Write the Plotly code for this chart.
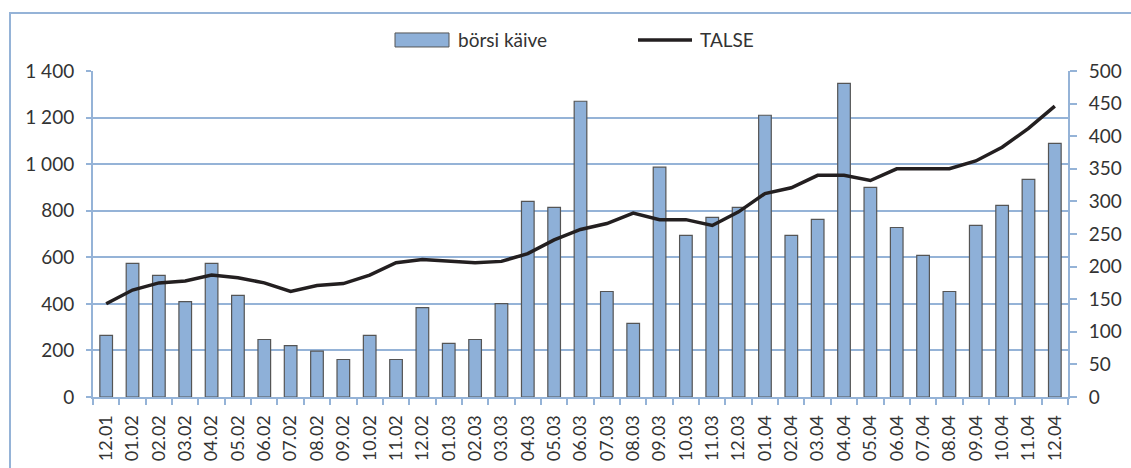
import plotly.graph_objects as go

categories = ["12.01", "01.02", "02.02", "03.02", "04.02", "05.02", "06.02", "07.02", "08.02",
              "09.02", "10.02", "11.02", "12.02", "01.03", "02.03", "03.03", "04.03", "05.03",
              "06.03", "07.03", "08.03", "09.03", "10.03", "11.03", "12.03", "01.04", "02.04",
              "03.04", "04.04", "05.04", "06.04", "07.04", "08.04", "09.04", "10.04", "11.04", "12.04"]
borsi_kaive = [265, 574, 522, 410, 574, 436, 247, 221, 197, 161, 265, 161, 384, 230, 247, 401,
               840, 814, 1270, 453, 316, 987, 694, 771, 814, 1210, 694, 763, 1347, 900, 728, 608,
               453, 737, 823, 935, 1089]
talse = [143, 164, 175, 178, 187, 183, 175, 162, 171, 174, 187, 206, 211, 208, 206, 208, 220,
         241, 257, 266, 282, 272, 272, 263, 284, 312, 321, 340, 340, 332, 350, 350, 350, 362,
         383, 412, 446]

W, H = 1131, 468
L, R, T, B = 93, 1068, 71, 396.7
BLUE = "#95B3D7"
TXT = "#333333"
FONT = "Lato"

def px(x):
    return (x - L) / (R - L)

def py(y):
    return (B - y) / (B - T)

fig = go.Figure()
fig.add_trace(go.Bar(x=categories, y=borsi_kaive, name="börsi käive", width=0.48,
                     marker=dict(color="#8EB0D8", line=dict(color="#555555", width=1.2)),
                     showlegend=False))
fig.add_trace(go.Scatter(x=categories, y=talse, name="TALSE", mode="lines", yaxis="y2",
                         line=dict(color="#231f20", width=3.5), showlegend=False))

shapes = [
    # outer chart border
    dict(type="rect", xref="paper", yref="paper", x0=px(10), x1=px(1145), y0=py(13), y1=py(490),
         line=dict(color=BLUE, width=2), fillcolor="rgba(0,0,0,0)", layer="below"),
    # legend swatches
    dict(type="rect", xref="paper", yref="paper", x0=px(395), x1=px(449), y0=py(33), y1=py(47),
         line=dict(color="#555555", width=1), fillcolor="#8EB0D8"),
    dict(type="line", xref="paper", yref="paper", x0=px(638), x1=px(692), y0=py(40), y1=py(40),
         line=dict(color="#231f20", width=3.5)),
]
annotations = [
    dict(text="börsi käive", xref="paper", yref="paper", x=px(456), y=py(40), xanchor="left",
         yanchor="middle", showarrow=False, font=dict(family=FONT, size=19, color=TXT)),
    dict(text="TALSE", xref="paper", yref="paper", x=px(698), y=py(40), xanchor="left",
         yanchor="middle", showarrow=False, font=dict(family=FONT, size=19, color=TXT)),
]

fig.update_layout(
    width=W, height=H,
    margin=dict(l=L, r=W - R, t=T, b=H - B, autoexpand=False),
    paper_bgcolor="white", plot_bgcolor="white",
    font=dict(family=FONT, size=19, color=TXT),
    separators=", ",
    showlegend=False,
    bargap=0.5,
    shapes=shapes,
    annotations=annotations,
    xaxis=dict(type="category", tickangle=-90, ticks="outside", tickson="boundaries", ticklen=6,
               tickcolor=BLUE, tickwidth=2, showline=True, linecolor=BLUE, linewidth=2,
               showgrid=False, tickfont=dict(family=FONT, size=18, color=TXT), automargin=False,
               ticklabelstandoff=9),
    yaxis=dict(range=[0, 1400], dtick=200, showgrid=True, gridcolor=BLUE, gridwidth=2,
               showline=True, linecolor=BLUE, linewidth=2, ticks="outside", ticklen=5,
               tickcolor=BLUE, tickwidth=2, separatethousands=True, zeroline=False,
               tickfont=dict(family=FONT, size=19, color=TXT), automargin=False,
               ticklabelstandoff=8),
    yaxis2=dict(range=[0, 500], dtick=50, overlaying="y", side="right", showgrid=False,
                showline=True, linecolor=BLUE, linewidth=2, ticks="outside", ticklen=7,
                tickcolor=BLUE, tickwidth=2, zeroline=False,
                tickfont=dict(family=FONT, size=19, color=TXT), automargin=False,
                ticklabelstandoff=8),
)

fig.write_html("out.html", config={"displayModeBar": False},
               post_script="document.body.style.margin='0';document.body.style.overflow='hidden';")
